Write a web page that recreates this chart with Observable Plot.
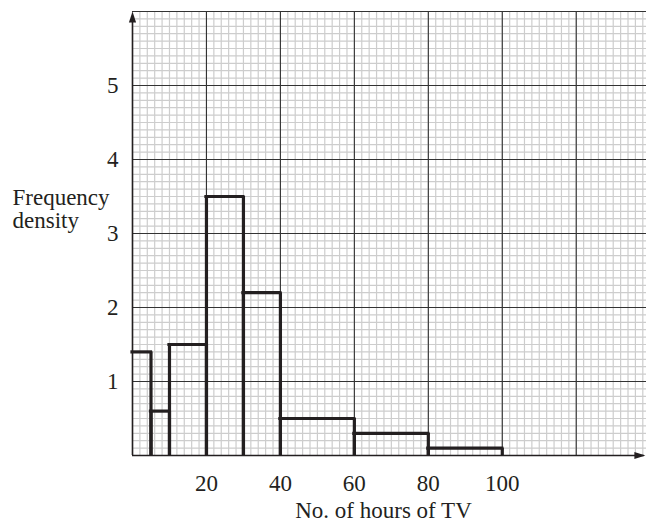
<!DOCTYPE html>
<html>
<head>
<meta charset="utf-8">
<script src="https://cdn.jsdelivr.net/npm/d3@7"></script>
<script src="https://cdn.jsdelivr.net/npm/@observablehq/plot@0.6"></script>
<style>
  html, body { margin: 0; padding: 0; background: #fff; }
  #chart { width: 646px; height: 522px; }
</style>
</head>
<body>
<div id="chart"></div>
<script>
// ---- data ----
const lowerEdges = [0, 5, 10, 20, 30, 40, 60, 80];
const upperEdges = [5, 10, 20, 30, 40, 60, 80, 100];
const freqDensity = [1.4, 0.6, 1.5, 3.5, 2.2, 0.5, 0.3, 0.1];
const xTickValues = [20, 40, 60, 80, 100];
const yTickValues = [1, 2, 3, 4, 5];
const xTitle = "No. of hours of TV";
const yTitle = "Frequency\ndensity";

// graph paper extents
const xMax = 139, yMax = 6;
const xMinorStep = 2, yMinorStep = 0.1;
const xMajorStep = 20, yMajorStep = 1;

const bars = lowerEdges.map((lo, i) => ({lo, hi: upperEdges[i], d: freqDensity[i]}));

const xMinor = d3.range(0, xMax, xMinorStep);
const yMinor = d3.range(1, Math.round(yMax / yMinorStep)).map(i => i * yMinorStep);
const xMajor = d3.range(xMajorStep, xMax, xMajorStep);
const yMajor = d3.range(yMajorStep, yMax + 0.001, yMajorStep);

const upArrow = {draw(ctx) { ctx.moveTo(0, 0); ctx.lineTo(-3.6, 11); ctx.lineTo(3.6, 11); ctx.closePath(); }};
const rightArrow = {draw(ctx) { ctx.moveTo(0, 0); ctx.lineTo(-11, -3.6); ctx.lineTo(-11, 3.6); ctx.closePath(); }};

const ink = "#231f20";
const font = "'Liberation Serif', 'Times New Roman', serif";

const chart = Plot.plot({
  width: 646,
  height: 522,
  marginTop: 11,
  marginBottom: 67,
  marginLeft: 132,
  marginRight: 0,
  style: {fontFamily: font, fontSize: "23px", color: ink, background: "#fff"},
  x: {domain: [0, xMax]},
  y: {domain: [0, yMax]},
  marks: [
    // minor grid
    Plot.ruleX(xMinor, {y1: 0, y2: yMax, stroke: "#cdcdcd", strokeWidth: 1.2}),
    Plot.ruleY(yMinor, {x1: 0, x2: xMax, stroke: "#cdcdcd", strokeWidth: 1.2}),
    // major grid
    Plot.ruleX(xMajor, {y1: 0, y2: yMax, stroke: "#333", strokeWidth: 1.1}),
    Plot.ruleY(yMajor, {x1: 0, x2: xMax, stroke: "#333", strokeWidth: 1.1}),
    // histogram bars (open outline)
    Plot.ruleX(bars.filter(b => b.lo > 0), {x: "lo", y1: 0, y2: "d", stroke: ink, strokeWidth: 3.2}),
    Plot.ruleX(bars, {x: "hi", y1: 0, y2: "d", stroke: ink, strokeWidth: 3.2}),
    Plot.ruleY(bars, {y: "d", x1: "lo", x2: "hi", stroke: ink, strokeWidth: 3.2, strokeLinecap: "square"}),
    // axis lines
    Plot.ruleY([0], {x1: 0, x2: 138.4, stroke: ink, strokeWidth: 1.6}),
    Plot.ruleX([0], {y1: 0, y2: 5.9, stroke: ink, strokeWidth: 1.6}),
    Plot.dot([{x: 0, y: yMax}], {x: "x", y: "y", symbol: upArrow, fill: ink, stroke: "none", r: 5}),
    Plot.dot([{x: 138.7, y: 0}], {x: "x", y: "y", symbol: rightArrow, fill: ink, stroke: "none", r: 5}),
    // axes
    Plot.axisX(xTickValues, {tickSize: 0, tickPadding: 19, tickFormat: "d", fontSize: 23, fill: ink, label: null}),
    Plot.axisY(yTickValues, {tickSize: 0, tickPadding: 14, tickFormat: "d", fontSize: 23, fill: ink, label: null}),
    // titles
    Plot.text([xTitle], {frameAnchor: "bottom", text: d => d, lineAnchor: "top", dy: 46, dx: -6, fontSize: 23, fill: ink}),
    Plot.text([yTitle], {frameAnchor: "left", text: d => d, textAnchor: "start", lineAnchor: "middle", lineHeight: 1.0, dx: -120, dy: -24, fontSize: 23, fill: ink})
  ]
});
document.getElementById("chart").appendChild(chart);
</script>
</body>
</html>
